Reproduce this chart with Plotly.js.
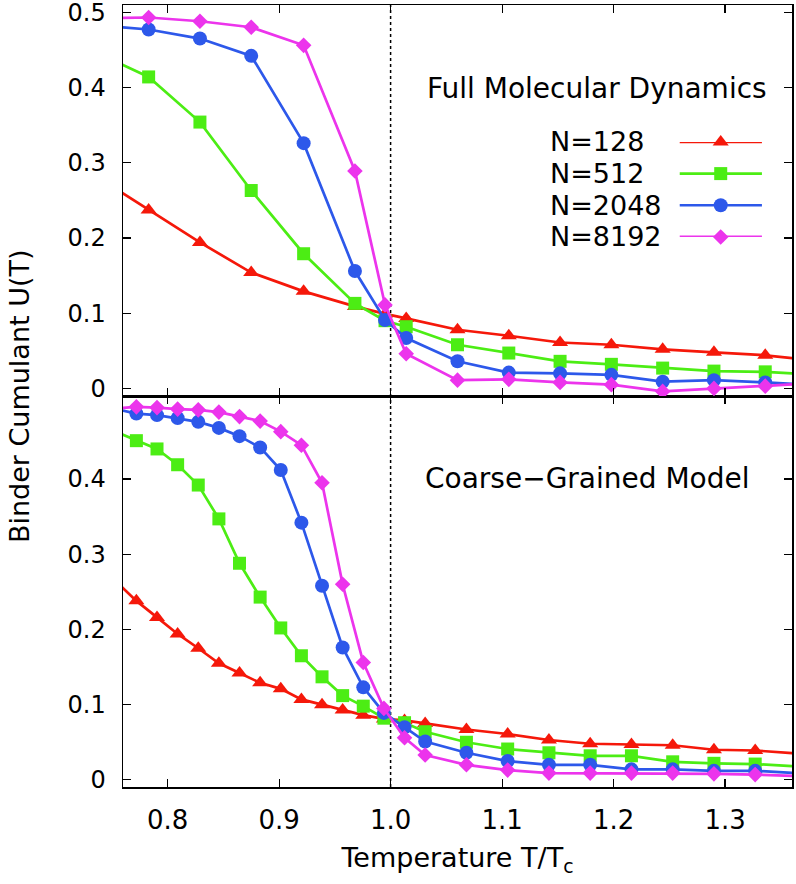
<!DOCTYPE html>
<html><head><meta charset="utf-8">
<script src="https://cdn.plot.ly/plotly-3.0.1.min.js"></script>
<style>html,body{margin:0;padding:0;background:#fff}</style>
</head><body><div id="chart" style="width:796px;height:884px"></div>
<script>
// ---- Data: Full Molecular Dynamics (top panel) ----
const T_md = [0.737, 0.783, 0.829, 0.875, 0.922, 0.968, 0.995, 1.014, 1.060, 1.106, 1.152, 1.198, 1.244, 1.290, 1.336, 1.382];
const md_N128  = [0.281, 0.237, 0.194, 0.154, 0.129, 0.109, 0.099, 0.093, 0.078, 0.070, 0.061, 0.058, 0.052, 0.048, 0.044, 0.037];
const md_N512  = [0.446, 0.414, 0.354, 0.263, 0.179, 0.113, 0.090, 0.082, 0.058, 0.047, 0.036, 0.032, 0.027, 0.023, 0.022, 0.018];
const md_N2048 = [0.483, 0.477, 0.465, 0.442, 0.326, 0.156, 0.091, 0.067, 0.036, 0.021, 0.020, 0.018, 0.009, 0.011, 0.008, 0.004];
const md_N8192 = [0.492, 0.493, 0.488, 0.480, 0.456, 0.289, 0.111, 0.046, 0.011, 0.012, 0.008, 0.005, -0.004, 0.000, 0.003, 0.007];

// ---- Data: Coarse-Grained Model (bottom panel) ----
const T_cg = [0.7535, 0.772, 0.7905, 0.809, 0.8275, 0.846, 0.8645, 0.883, 0.9015, 0.920, 0.9385, 0.957, 0.9755, 0.994, 1.0125, 1.031, 1.068, 1.105, 1.142, 1.179, 1.216, 1.253, 1.290, 1.327, 1.364];
const cg_N128  = [0.264, 0.238, 0.216, 0.194, 0.175, 0.155, 0.142, 0.129, 0.121, 0.107, 0.100, 0.093, 0.086, 0.081, 0.079, 0.075, 0.067, 0.061, 0.053, 0.048, 0.047, 0.046, 0.040, 0.039, 0.035];
const cg_N512  = [0.463, 0.451, 0.440, 0.419, 0.392, 0.347, 0.288, 0.243, 0.202, 0.165, 0.137, 0.112, 0.098, 0.082, 0.076, 0.064, 0.050, 0.041, 0.036, 0.032, 0.032, 0.024, 0.022, 0.021, 0.018];
const cg_N2048 = [0.493, 0.487, 0.485, 0.481, 0.476, 0.468, 0.457, 0.442, 0.412, 0.342, 0.258, 0.176, 0.123, 0.089, 0.070, 0.051, 0.036, 0.025, 0.020, 0.020, 0.014, 0.014, 0.012, 0.012, 0.009];
const cg_N8192 = [0.494, 0.496, 0.495, 0.493, 0.492, 0.489, 0.483, 0.477, 0.463, 0.445, 0.395, 0.260, 0.156, 0.095, 0.056, 0.033, 0.020, 0.013, 0.009, 0.009, 0.009, 0.009, 0.008, 0.007, 0.005];

const seriesNames = ['N=128', 'N=512', 'N=2048', 'N=8192'];
const xTicks = [0.8, 0.9, 1.0, 1.1, 1.2, 1.3];
const yTicksTop = [0, 0.1, 0.2, 0.3, 0.4, 0.5];
const yTicksBottom = [0, 0.1, 0.2, 0.3, 0.4];
const T_ratio_critical = 1.0;
const panelLabels = ['Full Molecular Dynamics', 'Coarse\u2212Grained Model'];

// ---- Styles ----
const colors = ['#f5180a', '#4ced14', '#2d58ea', '#ec34ec'];
const symbols = ['triangle-up', 'square', 'circle', 'diamond'];
const msizes = [14, 13, 14, 12];
const xRange = [0.76, 1.36];
const FONT = 'DejaVu Sans, Liberation Sans, Arial, sans-serif';

function sizesFor(xs, s) { return xs.map(v => (v >= xRange[0] && v <= xRange[1]) ? s : 0); }

const traces = [];
const mdSets = [md_N128, md_N512, md_N2048, md_N8192];
const cgSets = [cg_N128, cg_N512, cg_N2048, cg_N8192];
mdSets.forEach((ys, i) => traces.push({
  x: T_md, y: ys, xaxis: 'x2', yaxis: 'y2', mode: 'lines+markers', showlegend: false,
  name: seriesNames[i], line: {color: colors[i], width: 2.7},
  marker: {symbol: symbols[i], color: colors[i], opacity: 1, size: sizesFor(T_md, msizes[i]), line: {width: 0}}
}));
cgSets.forEach((ys, i) => traces.push({
  x: T_cg, y: ys, xaxis: 'x', yaxis: 'y', mode: 'lines+markers', showlegend: false,
  name: seriesNames[i], line: {color: colors[i], width: 2.7},
  marker: {symbol: symbols[i], color: colors[i], opacity: 1, size: sizesFor(T_cg, msizes[i]), line: {width: 0}}
}));
// legend samples (line with centred marker), drawn on hidden helper axes
seriesNames.forEach((n, i) => traces.push({
  x: [0, 0.5, 1], y: [i, i, i], xaxis: 'x3', yaxis: 'y3', mode: 'lines+markers', showlegend: false,
  cliponaxis: false, hoverinfo: 'skip',
  line: {color: colors[i], width: 2.7},
  marker: {symbol: symbols[i], color: colors[i], opacity: 1, size: [0, msizes[i], 0], line: {width: 0}}
}));

const axCommon = {
  showgrid: false, zeroline: false, showline: true, linecolor: '#000', linewidth: 1.5,
  ticks: 'inside', ticklen: 8, tickwidth: 1.2, tickcolor: '#000', mirror: 'ticks',
  ticklabeloverflow: 'allow',
  tickfont: {family: FONT, size: 26, color: '#000'}
};
const yTickFont = {family: FONT, size: 24, color: '#000'};

const annotations = [
  {text: panelLabels[0], xref: 'paper', yref: 'paper', x: 0.708, y: 0.8935, showarrow: false,
   xanchor: 'center', yanchor: 'middle', font: {family: FONT, size: 28, color: '#000'}},
  {text: panelLabels[1], xref: 'paper', yref: 'paper', x: 0.6945, y: 0.3946, showarrow: false,
   xanchor: 'center', yanchor: 'middle', font: {family: FONT, size: 28, color: '#000'}},
  {text: 'Binder Cumulant U(T)', xref: 'paper', yref: 'paper', x: -0.1553, y: 0.5, showarrow: false,
   textangle: -90, xanchor: 'center', yanchor: 'middle', font: {family: FONT, size: 27, color: '#000'}}
];
seriesNames.forEach((n, i) => annotations.push({
  text: n, xref: 'paper', yref: 'y3', x: 0.6359, y: i, showarrow: false,
  xanchor: 'left', yanchor: 'middle', font: {family: FONT, size: 27, color: '#000'}
}));

const layout = {
  width: 796, height: 884,
  margin: {l: 123.3, r: 4.3, t: 4.7, b: 97},
  paper_bgcolor: '#fff', plot_bgcolor: '#fff',
  showlegend: false,
  xaxis: Object.assign({}, axCommon, {domain: [0, 1], range: xRange, anchor: 'y', tickvals: xTicks,
    tickformat: '.1f', ticklabelstandoff: 9,
    title: {text: 'Temperature T/T<sub>c</sub>', font: {family: FONT, size: 27, color: '#000'}, standoff: 14}}),
  yaxis: Object.assign({}, axCommon, {domain: [0, 0.5], range: [-0.0095, 0.5104], anchor: 'x',
    tickvals: yTicksBottom, ticklabelstandoff: 11, tickfont: yTickFont}),
  xaxis2: Object.assign({}, axCommon, {domain: [0, 1], range: xRange, anchor: 'y2', tickvals: xTicks,
    matches: 'x', showticklabels: false}),
  yaxis2: Object.assign({}, axCommon, {domain: [0.5, 1], range: [-0.0101, 0.5096], anchor: 'x2',
    tickvals: yTicksTop, ticklabelstandoff: 11, tickfont: yTickFont}),
  xaxis3: {domain: [0.8318, 0.9551], range: [0, 1], anchor: 'y3', visible: false, fixedrange: true},
  yaxis3: {domain: [0.7034, 0.8249], range: [3, 0], anchor: 'x3', visible: false, fixedrange: true},
  shapes: [{type: 'line', xref: 'x', yref: 'paper', x0: T_ratio_critical, x1: T_ratio_critical, y0: 0, y1: 1,
    line: {color: '#000', width: 1.5, dash: 'dot'}, layer: 'below'}],
  annotations: annotations
};

Plotly.newPlot('chart', traces, layout, {staticPlot: true, displayModeBar: false});
</script>
</body></html>
